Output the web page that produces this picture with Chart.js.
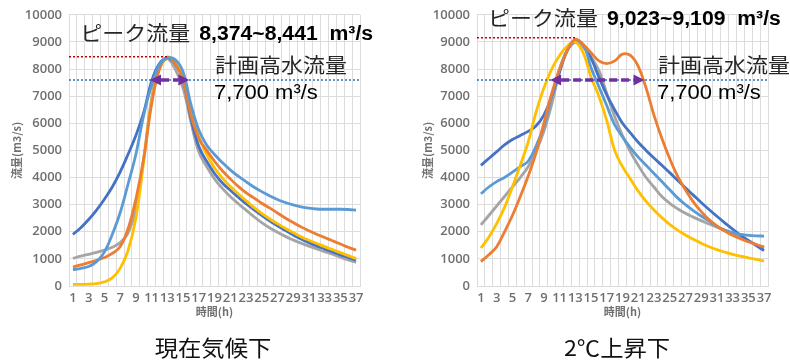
<!DOCTYPE html>
<html>
<head>
<meta charset="utf-8">
<script src="https://cdn.jsdelivr.net/npm/chart.js@4.4.1/dist/chart.umd.min.js"></script>
<style>
  html, body { margin: 0; padding: 0; background: #fff; }
  body { width: 790px; height: 360px; position: relative; overflow: hidden; }
  .box { position: absolute; top: 0; width: 395px; height: 360px; }
  .cap { position: absolute; top: 333px; width: 160px; text-align: center;
         font: 22px "Noto Sans CJK JP"; line-height: 26px; color: #111; transform: scaleX(1.06); }
</style>
</head>
<body>
<div class="box" style="left:0"><canvas id="now" width="395" height="360"></canvas></div>
<div class="box" style="left:395px"><canvas id="warm" width="395" height="360"></canvas></div>
<div class="cap" style="left:133px">現在気候下</div>
<div class="cap" style="left:537px">2℃上昇下</div>
<script>
// time axis (hours)
const hours = [1,2,3,4,5,6,7,8,9,10,11,12,13,14,15,16,17,18,19,20,21,22,23,24,25,26,27,28,29,30,31,32,33,34,35,36,37];
const yTicks = { min: 0, max: 10000, step: 1000 };

// 現在気候下 (m3/s)
const nowBlue      = [1900,2150,2450,2800,3200,3650,4200,4850,5550,6400,7550,8200,8400,8200,7600,6200,5150,4600,4150,3800,3530,3280,3040,2820,2600,2400,2220,2050,1880,1730,1600,1480,1370,1260,1150,1050,950];
const nowOrange    = [700,780,860,950,1050,1200,1450,2100,3200,4700,6700,8000,8440,8200,7600,6300,5450,5000,4600,4250,3950,3680,3440,3250,3050,2880,2690,2510,2340,2180,2040,1910,1790,1670,1550,1430,1320];
const nowGray      = [1020,1100,1170,1240,1320,1430,1600,1950,2800,4700,6900,8150,8380,8000,7300,6050,4950,4400,3950,3600,3300,3040,2800,2560,2340,2150,1980,1830,1700,1580,1470,1370,1270,1170,1060,960,870];
const nowYellow    = [60,60,70,90,150,300,650,1300,2500,4600,6800,8000,8400,8300,7700,6450,5500,4850,4350,3980,3680,3400,3150,2900,2680,2480,2300,2130,1970,1820,1690,1570,1450,1340,1230,1120,1010];
const nowLightBlue = [600,650,720,900,1250,1900,2700,3750,4850,6300,7400,8150,8400,8350,7900,6700,5750,5200,4850,4550,4280,4050,3850,3650,3480,3330,3190,3080,2990,2920,2870,2840,2830,2830,2830,2820,2800];

// 2℃上昇下 (m3/s)
const warmBlue      = [4450,4700,4950,5200,5400,5550,5700,5900,6300,7000,7900,8700,9050,8900,8400,7700,7050,6500,6000,5650,5300,5000,4720,4450,4180,3900,3620,3350,3080,2820,2570,2330,2100,1880,1680,1490,1310];
const warmOrange    = [900,1150,1450,2000,2600,3300,4050,4900,6000,7100,8000,8700,9100,8900,8600,8300,8200,8300,8550,8500,8100,7300,6300,5450,4700,4050,3550,3100,2750,2450,2220,2030,1870,1740,1630,1530,1440];
const warmGray      = [2250,2600,2950,3300,3650,4000,4400,4950,5700,6700,7900,8700,9050,8800,8450,7950,7100,6250,5550,4950,4450,4000,3650,3300,3050,2850,2680,2540,2410,2290,2170,2050,1920,1790,1660,1530,1400];
const warmYellow    = [1400,1800,2300,2900,3650,4450,5300,6400,7300,8000,8500,8850,9000,8600,7700,7000,6100,5000,4400,3950,3500,3120,2800,2520,2270,2060,1880,1720,1580,1450,1340,1250,1170,1100,1040,980,920];
const warmLightBlue = [3400,3650,3850,4000,4200,4400,4600,5150,5900,7000,8000,8700,9000,8900,8050,7350,6650,5950,5500,5100,4750,4450,4150,3850,3550,3250,3000,2780,2580,2400,2200,2060,1970,1900,1870,1850,1840];

// annotation values
const nowPeakLabel  = '8,374~8,441  m³/s';
const warmPeakLabel = '9,023~9,109  m³/s';
const planLabel = '7,700 m³/s';
const nowPeakLevel = 8450, warmPeakLevel = 9150, planLevel = 7600;
const nowArrow  = [9.8, 14.8];   // category index where arrow tips sit
const warmArrow = [8.8, 20.8];

const C = { blue: '#4472c4', orange: '#ed7d31', gray: '#a5a5a5', yellow: '#ffc000', lightBlue: '#5b9bd5' };
const tickColor = '#707070';
const gridColor = '#dcdcdc';

function line(label, data, color, order) {
  return { label, data, borderColor: color, backgroundColor: color, borderWidth: 2.8,
           pointRadius: 0, tension: 0.4, order };
}

function scaledText(ctx, text, x, y, font, color, sx) {
  ctx.save();
  ctx.translate(x, y);
  ctx.scale(sx, 1);
  ctx.font = font;
  ctx.fillStyle = color;
  ctx.textBaseline = 'middle';
  ctx.fillText(text, 0, 0);
  const w = ctx.measureText(text).width * sx;
  ctx.restore();
  return w;
}

function notes(n) {
  return {
    id: 'notes',
    afterDatasetsDraw(chart) {
      const { ctx, chartArea: a, scales: { x, y } } = chart;
      ctx.save();
      ctx.lineWidth = 1.5;
      ctx.setLineDash([2, 2]);
      // peak level
      const yp = y.getPixelForValue(n.peakLevel);
      ctx.strokeStyle = '#c00000';
      ctx.beginPath(); ctx.moveTo(a.left, yp); ctx.lineTo(x.getPixelForValue(12), yp); ctx.stroke();
      // planned flood discharge
      const yq = y.getPixelForValue(planLevel);
      ctx.strokeStyle = '#2e75b6';
      ctx.beginPath(); ctx.moveTo(a.left, yq); ctx.lineTo(a.right, yq); ctx.stroke();
      // double arrow
      const x1 = x.getPixelForValue(n.arrow[0]), x2 = x.getPixelForValue(n.arrow[1]);
      const head = 11, hh = 5.5;
      ctx.strokeStyle = ctx.fillStyle = '#7030a0';
      ctx.lineWidth = 3.5;
      ctx.setLineDash([8, 4]);
      ctx.beginPath(); ctx.moveTo(x1 + head, yq); ctx.lineTo(x2 - head, yq); ctx.stroke();
      ctx.setLineDash([]);
      ctx.beginPath(); ctx.moveTo(x1, yq); ctx.lineTo(x1 + head, yq - hh); ctx.lineTo(x1 + head, yq + hh); ctx.fill();
      ctx.beginPath(); ctx.moveTo(x2, yq); ctx.lineTo(x2 - head, yq - hh); ctx.lineTo(x2 - head, yq + hh); ctx.fill();
      // texts
      const sx = 1.1;
      let tx = x.getPixelForValue(n.peakText[0]);
      const ty = y.getPixelForValue(n.peakText[1]);
      tx += scaledText(ctx, 'ピーク流量', tx, ty, '20px "Noto Sans CJK JP"', '#262626', sx) + 9;
      scaledText(ctx, n.peakLabel, tx, ty + 1, 'bold 20px "Liberation Sans"', '#000', 1.06);
      scaledText(ctx, '計画高水流量', x.getPixelForValue(n.planText[0]), y.getPixelForValue(n.planText[1]),
                 '20px "Noto Sans CJK JP"', '#262626', sx);
      scaledText(ctx, planLabel, x.getPixelForValue(n.planText[0]) - 1, y.getPixelForValue(n.planText[2]),
                 '20px "Liberation Sans"', '#000', sx);
      ctx.restore();
    }
  };
}

function makeChart(id, sets, pad, yWidth, n) {
  return new Chart(document.getElementById(id), {
    type: 'line',
    data: { labels: hours, datasets: sets },
    options: {
      responsive: false,
      animation: false,
      devicePixelRatio: 1,
      layout: { padding: pad },
      plugins: { legend: { display: false }, tooltip: { enabled: false } },
      scales: {
        x: {
          offset: true,
          grid: { color: gridColor, offset: true, drawTicks: false },
          border: { color: gridColor },
          ticks: {
            autoSkip: false, maxRotation: 0, minRotation: 0, padding: 4,
            color: tickColor, font: { family: 'Open Sans', size: 13, weight: '600' },
            callback: (v, i) => (i % 2 === 0 ? hours[i] : '')
          },
          title: { display: true, text: '時間(h)', color: tickColor,
                   font: { family: 'Noto Sans CJK JP', size: 11, weight: 'bold' }, padding: { top: 0, bottom: 17 } },
          afterFit: s => { s.height = 49; }
        },
        y: {
          min: yTicks.min, max: yTicks.max,
          grid: { color: gridColor, drawTicks: false },
          border: { display: false },
          ticks: { stepSize: yTicks.step, padding: 7, color: tickColor,
                   font: { family: 'Open Sans', size: 13, weight: '600' },
                   callback: v => String(v) },
          title: { display: true, text: '流量(m3/s)', color: tickColor,
                   font: { family: 'Noto Sans CJK JP', size: 11, weight: 'bold' }, padding: { top: 10, bottom: 0 } },
          afterFit: s => { s.width = yWidth; }
        }
      }
    },
    plugins: [notes(n)]
  });
}

makeChart('now', [
  line('1', nowLightBlue, C.lightBlue, 1),
  line('2', nowOrange, C.orange, 2),
  line('3', nowYellow, C.yellow, 3),
  line('4', nowBlue, C.blue, 4),
  line('5', nowGray, C.gray, 5)
], { left: 0, right: 35, top: 14, bottom: 25 }, 69,
{ peakLevel: nowPeakLevel, peakLabel: nowPeakLabel, arrow: nowArrow,
  peakText: [0.93, 9300], planText: [18.05, 8120, 7100] });

makeChart('warm', [
  line('1', warmOrange, C.orange, 1),
  line('2', warmYellow, C.yellow, 2),
  line('3', warmLightBlue, C.lightBlue, 3),
  line('4', warmBlue, C.blue, 4),
  line('5', warmGray, C.gray, 5)
], { left: 16, right: 22, top: 14, bottom: 25 }, 66,
{ peakLevel: warmPeakLevel, peakLabel: warmPeakLabel, arrow: warmArrow,
  peakText: [0.9, 9850], planText: [22.5, 8120, 7100] });
</script>
</body>
</html>
